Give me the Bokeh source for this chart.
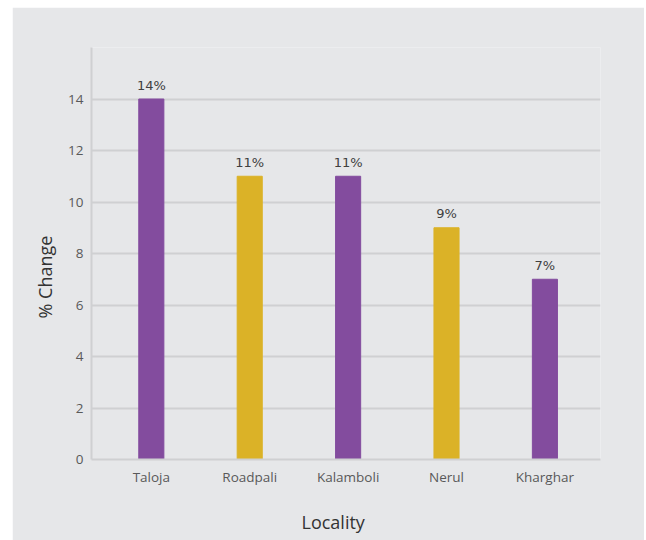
from bokeh.plotting import figure
from bokeh.models import Range1d, FixedTicker, ColumnDataSource, Title
from bokeh.core.properties import value
from bokeh.embed import file_html
from bokeh.resources import INLINE

localities = ["Taloja", "Roadpali", "Kalamboli", "Nerul", "Kharghar"]
pct_change = [14, 11, 11, 9, 7]
bar_colors = ["#834C9E", "#DBB227", "#834C9E", "#DBB227", "#834C9E"]
y_ticks = [0, 2, 4, 6, 8, 10, 12, 14]

xs = list(range(len(localities)))
src = ColumnDataSource(dict(x=xs, top=pct_change, color=bar_colors,
                            label=[f"{v}%" for v in pct_change]))

BG = "#E6E7E9"
GRID = "#CFD0D2"

p = figure(width=632, height=533, output_backend="svg", toolbar_location=None,
           x_range=Range1d(-0.608, 4.565), y_range=Range1d(0, 16),
           min_border_left=79, min_border_right=44, min_border_top=40, min_border_bottom=81,
           background_fill_color=BG, border_fill_color=BG, outline_line_color=None)
p.margin = (7, 2, 0, 12)

p.vbar(x="x", top="top", bottom=0, width=0.255, color="color", source=src)
p.text(x="x", y="top", text="label", source=src, text_align="center",
       text_baseline="alphabetic", y_offset=-14, text_font=value("DejaVu Sans"),
       text_font_size="13px", text_color="#404040")

# grid
p.xgrid.grid_line_color = None
p.ygrid.grid_line_color = GRID
p.ygrid.grid_line_width = 2
p.ygrid.ticker = FixedTicker(ticks=y_ticks)

# y axis
p.yaxis.ticker = FixedTicker(ticks=y_ticks)
p.yaxis.axis_line_color = GRID
p.yaxis.axis_line_width = 2
p.yaxis.major_tick_line_color = None
p.yaxis.minor_tick_line_color = None
p.yaxis.major_label_text_font = "Open Sans"
p.yaxis.major_label_text_font_size = "13.5px"
p.yaxis.major_label_text_color = "#595959"
p.yaxis.major_label_standoff = 2

# x axis
p.xaxis.ticker = FixedTicker(ticks=xs)
p.xaxis.major_label_overrides = {i: n for i, n in enumerate(localities)}
p.xaxis.axis_line_color = GRID
p.xaxis.axis_line_width = 2
p.xaxis.major_tick_line_color = None
p.xaxis.minor_tick_line_color = None
p.xaxis.major_label_text_font = "Open Sans"
p.xaxis.major_label_text_font_size = "13.5px"
p.xaxis.major_label_text_color = "#595959"
p.xaxis.major_label_standoff = 2
p.xaxis.axis_label = " "
p.xaxis.axis_label_text_font_size = "1px"
p.xaxis.axis_label_standoff = 11

# axis titles
t_left = Title(text="% Change", align="left", offset=141, text_font="Open Sans",
               text_font_size="18px", text_font_style="normal", text_color="#333333",
               standoff=18)
p.add_layout(t_left, "left")
t_below = Title(text="Locality", align="left", offset=210, text_font="Open Sans",
                text_font_size="18px", text_font_style="normal", text_color="#333333",
                standoff=8)
p.add_layout(t_below, "below")

open("out.html", "w").write(file_html(p, INLINE))
